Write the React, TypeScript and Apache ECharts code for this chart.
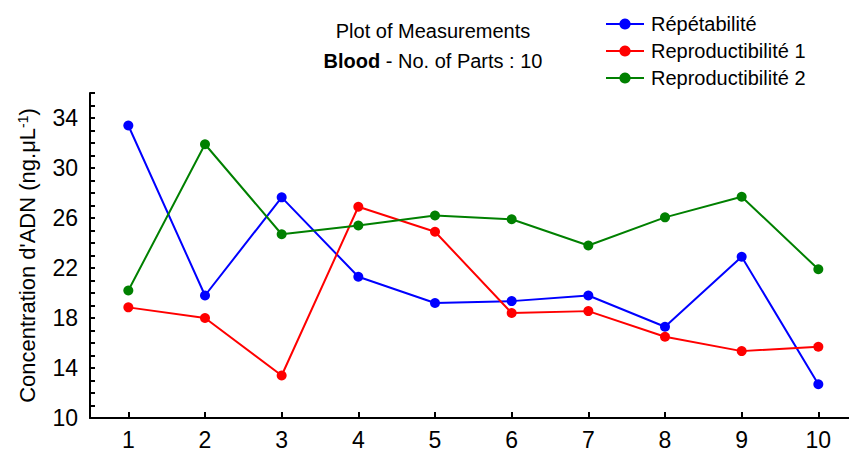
import React, { useEffect, useRef } from "react";
import * as echarts from "echarts";

const parts = [1, 2, 3, 4, 5, 6, 7, 8, 9, 10];
const repetabilite = [33.4, 19.8, 27.65, 21.3, 19.2, 19.35, 19.8, 17.3, 22.9, 12.7];
const reproductibilite1 = [18.85, 18.0, 13.4, 26.9, 24.9, 18.4, 18.55, 16.5, 15.35, 15.7];
const reproductibilite2 = [20.2, 31.9, 24.7, 25.4, 26.2, 25.9, 23.8, 26.05, 27.7, 21.9];
const seriesNames = ["Répétabilité", "Reproductibilité 1", "Reproductibilité 2"];
const seriesColors = ["#0000ff", "#ff0000", "#008000"];
const yLabelValues = [10, 14, 18, 22, 26, 30, 34];

const FONT = "'Liberation Sans', Arial, sans-serif";

export default function App() {
  const ref = useRef<HTMLDivElement>(null);
  useEffect(() => {
    if (!ref.current) return;
    const chart = echarts.init(ref.current, null, { renderer: "svg" });
    const allSeries = [repetabilite, reproductibilite1, reproductibilite2];
    chart.setOption({
      animation: false,
      textStyle: { fontFamily: FONT, color: "#000" },
      title: {
        text: "Plot of Measurements\n{b|Blood} - No. of Parts : 10",
        left: 428,
        top: 11,
        textAlign: "center",
        textStyle: {
          fontFamily: FONT,
          fontSize: 20,
          fontWeight: "normal",
          color: "#000",
          lineHeight: 30,
          rich: {
            b: { fontFamily: FONT, fontSize: 20, fontWeight: "bold", color: "#000", lineHeight: 30 },
          },
        },
      },
      legend: {
        orient: "vertical",
        left: 600,
        top: 9,
        itemWidth: 38,
        itemHeight: 14,
        itemGap: 7,
        data: seriesNames,
        textStyle: { fontFamily: FONT, fontSize: 20, color: "#000", padding: [0, 0, 0, 2] },
      },
      grid: { left: 90, top: 93, right: 0, bottom: 34, containLabel: false },
      xAxis: {
        type: "value",
        min: 0.5,
        max: 10.4,
        axisLine: { show: true, lineStyle: { color: "#000", width: 2 } },
        axisTick: { show: true, inside: true, length: 6, customValues: parts, lineStyle: { color: "#000", width: 2 } },
        axisLabel: { customValues: parts, fontSize: 23, color: "#000", margin: 10, fontFamily: FONT },
        splitLine: { show: false },
      },
      yAxis: {
        type: "value",
        min: 10,
        max: 36,
        interval: 2,
        name: "{a|Concentration d'ADN (ng.μL}{s|-1}{a|)}",
        nameLocation: "middle",
        nameGap: 51,
        nameRotate: 90,
        nameTextStyle: {
          rich: {
            a: { fontFamily: FONT, fontSize: 22, color: "#000" },
            s: { fontFamily: FONT, fontSize: 14, color: "#000", verticalAlign: "top", padding: [0, 0, 9, 0] },
          },
        },
        axisLine: { show: true, lineStyle: { color: "#000", width: 2 } },
        axisTick: { show: true, inside: true, length: 5, lineStyle: { color: "#000", width: 2 } },
        minorTick: { show: true, splitNumber: 2, length: 5, lineStyle: { color: "#000", width: 2 } },
        axisLabel: {
          fontSize: 23,
          color: "#000",
          margin: 12,
          fontFamily: FONT,
          formatter: (v: number) => (yLabelValues.includes(v) ? String(v) : ""),
        },
        splitLine: { show: false },
      },
      series: allSeries.map((vals, i) => ({
        name: seriesNames[i],
        type: "line",
        data: parts.map((p, j) => [p, vals[j]]),
        symbol: "circle",
        symbolSize: 10,
        color: seriesColors[i],
        lineStyle: { color: seriesColors[i], width: 2 },
        itemStyle: { color: seriesColors[i] },
      })),
    });
    return () => chart.dispose();
  }, []);
  return (
    <div
      ref={ref}
      style={{ position: "fixed", left: 0, top: 0, width: 849, height: 452, background: "#fff" }}
    />
  );
}
